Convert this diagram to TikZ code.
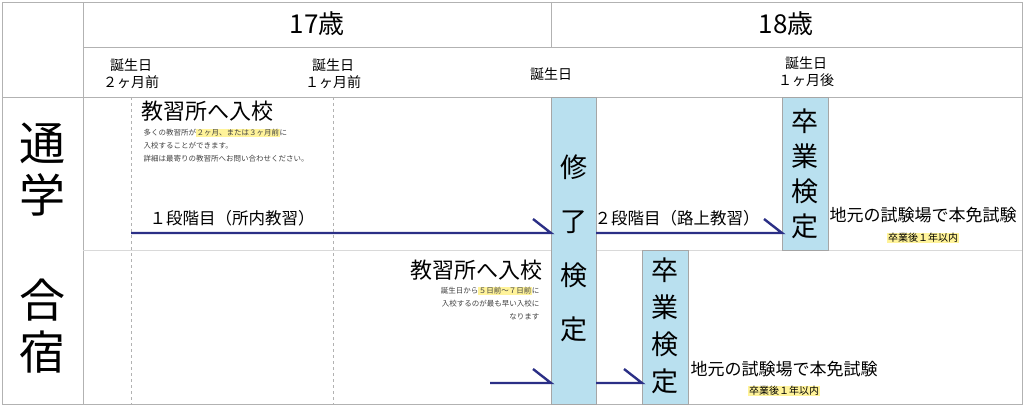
\documentclass[tikz,border=0pt]{standalone}
\usepackage{fontspec}
\setmainfont{Noto Sans CJK JP}
\usetikzlibrary{positioning}
\definecolor{kentei}{HTML}{B9E0EF}
\definecolor{navy}{HTML}{2B2F86}
\definecolor{marker}{HTML}{FFF39A}
\newcommand{\mk}[1]{{\setlength{\fboxsep}{0.6pt}\colorbox{marker}{#1}}}
\tikzset{
  flow/.style={navy, line width=2.4pt},
  bar/.style={draw=gray!70, fill=kentei},
  big/.style={font=\fontsize{26}{26}\selectfont},
  date/.style={font=\fontsize{14}{17}\selectfont, align=center},
  note/.style={font=\fontsize{7.5}{13}\selectfont, text=black!75},
  row/.style={font=\fontsize{46}{52}\selectfont, align=center},
}
\begin{document}
\begin{tikzpicture}[x=1pt,y=-1pt]
  \useasboundingbox (0,0) rectangle (1024,406);
  % grid
  \draw[gray!60] (2,2) rectangle (1022,404);
  \draw[gray!60] (83,2) -- (83,404);
  \draw[gray!60] (551,2) -- (551,47);
  \draw[gray!60] (83,47) -- (1022,47);
  \draw[gray!60] (2,97) -- (1022,97);
  \draw[gray!30] (83,250) -- (1022,250);
  \draw[gray!60, dashed] (131,97) -- (131,404);
  \draw[gray!60, dashed] (333,97) -- (333,404);

  % header
  \node[big] (y17) at (317,24) {17歳};
  \node[big] (y18) at (786,24) {18歳};
  \node[date] (d2m) at (131,74) {誕生日\\２ヶ月前};
  \node[date] (d1m) at (333,74) {誕生日\\１ヶ月前};
  \node[date] (d0) at (551,74) {誕生日};
  \node[date] (d1a) at (806,72) {誕生日\\１ヶ月後};

  % rows
  \node[row] (tsugaku) at (42,170) {通\\学};
  \node[row] (gasshuku) at (42,326) {合\\宿};

  % bars
  \draw[bar] (551,97) rectangle (596,404);
  \node[big, align=center, font=\fontsize{27}{54}\selectfont] (shuryo) at (573.5,248) {修\\了\\検\\定};
  \draw[bar] (782,97) rectangle (828,250);
  \node[big, align=center, font=\fontsize{27}{35}\selectfont] (sotsu1) at (805,174) {卒\\業\\検\\定};
  \draw[bar] (642,250) rectangle (688,404);
  \node[big, align=center, font=\fontsize{27}{37}\selectfont] (sotsu2) at (665,326) {卒\\業\\検\\定};

  % 通学
  \node[anchor=west, font=\fontsize{22}{22}\selectfont] (nyuko1) at (138,111) {教習所へ入校};
  \node[note, anchor=north west, align=left] (memo1) at (140,125)
    {多くの教習所が\mk{２ヶ月、または３ヶ月前}に\\入校することができます。\\詳細は最寄りの教習所へお問い合わせください。};
  \coordinate (a1) at (131,233);
  \coordinate (b1) at (551,233);
  \coordinate (a2) at (596,233);
  \coordinate (b2) at (782,233);
  \draw[flow] (a1) -- (b1) -- ++(-18,-14);
  \draw[flow] (a2) -- (b2) -- ++(-18,-14);
  \node[font=\fontsize{16.5}{17}\selectfont] (dan1) at (232,218) {１段階目（所内教習）};
  \node[font=\fontsize{16.5}{17}\selectfont] (dan2) at (677,218) {２段階目（路上教習）};
  \node[font=\fontsize{17}{18}\selectfont] (honmen1) at (923,215) {地元の試験場で本免試験};
  \node[font=\fontsize{10}{11}\selectfont] (kigen1) at (923,238) {\mk{卒業後１年以内}};

  % 合宿
  \node[anchor=east, font=\fontsize{22}{22}\selectfont] (nyuko2) at (546,270) {教習所へ入校};
  \node[note, anchor=north east, align=right] (memo2) at (543,283)
    {誕生日から\mk{５日前〜７日前}に\\入校するのが最も早い入校に\\なります};
  \coordinate (a3) at (490,383);
  \coordinate (b3) at (551,383);
  \coordinate (a4) at (596,383);
  \coordinate (b4) at (642,383);
  \draw[flow] (a3) -- (b3) -- ++(-18,-14);
  \draw[flow] (a4) -- (b4) -- ++(-18,-14);
  \node[font=\fontsize{17}{18}\selectfont] (honmen2) at (784,369) {地元の試験場で本免試験};
  \node[font=\fontsize{10}{11}\selectfont] (kigen2) at (784,391) {\mk{卒業後１年以内}};
\end{tikzpicture}
\end{document}
